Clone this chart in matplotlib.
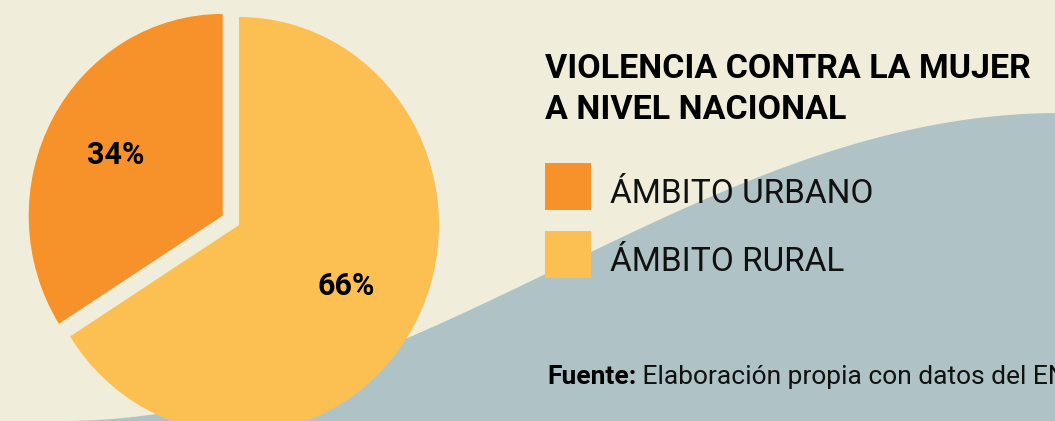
import numpy as np
import matplotlib.pyplot as plt
from matplotlib.patches import Rectangle

# data
labels = ['ÁMBITO URBANO', 'ÁMBITO RURAL']
values = [34, 66]
colors = ['#F7912A', '#FCBF52']
title_lines = ['VIOLENCIA CONTRA LA MUJER', 'A NIVEL NACIONAL']
source_bold = 'Fuente:'
source_text = ' Elaboración propia con datos del ENDES'

W, H = 1055, 421
cream = '#F0EEDB'
wave_color = '#AFC3C6'
plt.rcParams['font.family'] = ['Roboto', 'DejaVu Sans']

fig = plt.figure(figsize=(W / 100, H / 100), dpi=100, facecolor=cream)

# background axes in pixel units (y down)
bg = fig.add_axes([0, 0, 1, 1])
bg.set_xlim(0, W)
bg.set_ylim(H, 0)
bg.axis('off')

# decorative wave
xs = np.linspace(0, W, 400)
t = np.clip((xs - 60) / 1000, 0, 1)
wave = H - 308 * (1 - np.cos(np.pi * t)) / 2
bg.fill_between(xs, wave, H + 5, color=wave_color, lw=0)

# title
for i, line in enumerate(title_lines):
    bg.text(545, 78 + i * 41, line, fontsize=24.5, fontweight='bold',
            va='baseline', ha='left', color='black')

# legend
for i, (lab, col) in enumerate(zip(labels, colors)):
    y0 = 163 + i * 68
    bg.add_patch(Rectangle((545, y0), 46, 47, color=col, lw=0))
    bg.text(610, y0 + 40, lab, fontsize=24, fontweight='normal', va='baseline',
            ha='left', color='#111111')

# source (cut at the right edge, as in the original)
t1 = bg.text(547, 384, source_bold, fontsize=19, fontweight='bold',
             va='baseline', ha='left')
bg.annotate(source_text, xy=(1, 0), xycoords=t1, fontsize=19, va='bottom',
            ha='left', annotation_clip=False, color='#111111')

# pie (slightly taller than wide, as in the original)
sx, sy = 200, 208
cx, cy = 239, 225
ax = fig.add_axes([(cx - 1.25 * sx) / W, (H - cy - 1.25 * sy) / H,
                   2.5 * sx / W, 2.5 * sy / H])
ax.patch.set_alpha(0)
wedges, texts, autotexts = ax.pie(
    values, colors=colors, startangle=90, counterclock=True,
    explode=[0.093, 0], autopct='%.0f%%', pctdistance=0.61,
    wedgeprops=dict(linewidth=0),
    textprops=dict(fontsize=22, fontweight='bold', color='black'))
wedges[0].set_radius(0.97)
ax.set_aspect('auto')
ax.set_xlim(-1.25, 1.25)
ax.set_ylim(-1.25, 1.25)
ax.axis('off')

fig.savefig('out.png', dpi=100, facecolor=cream)
